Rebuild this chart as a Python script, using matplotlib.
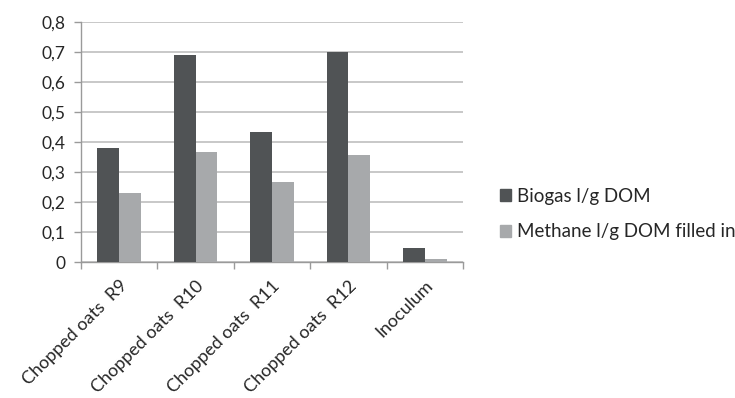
import matplotlib
matplotlib.use("Agg")
import matplotlib.pyplot as plt
from matplotlib.patches import Patch
from matplotlib.ticker import FuncFormatter, FixedLocator
from matplotlib.transforms import ScaledTranslation
import numpy as np

categories = ["Chopped oats  R9", "Chopped oats  R10", "Chopped oats  R11",
              "Chopped oats  R12", "Inoculum"]
biogas = [0.38, 0.69, 0.433, 0.70, 0.048]
methane = [0.231, 0.367, 0.267, 0.356, 0.010]
series_names = ["Biogas l/g DOM", "Methane l/g DOM filled in"]

dark = "#505355"
light = "#a7a9ab"
grid_c = "#bfbfbf"
text_c = "#262626"

plt.rcParams["font.family"] = ["Lato", "DejaVu Sans"]

fig = plt.figure(figsize=(7.35, 3.98), dpi=100)
ax = fig.add_axes([0.110, 0.341, 0.520, 0.6045])

x = np.arange(len(categories))
w = 0.285
ax.bar(x - w / 2, biogas, width=w, color=dark, zorder=3)
ax.bar(x + w / 2, methane, width=w, color=light, zorder=3)

ax.set_xlim(-0.5, len(categories) - 0.5)
ax.set_ylim(0, 0.8)
ax.set_yticks(np.arange(0, 0.81, 0.1))
ax.yaxis.set_major_formatter(FuncFormatter(
    lambda v, p: "0" if abs(v) < 1e-9 else f"{v:.1f}".replace(".", ",")))
ax.yaxis.grid(True, color=grid_c, linewidth=1.2, zorder=0)
ax.set_axisbelow(True)

# boundary ticks between categories, labels centred on each group
ax.xaxis.set_major_locator(FixedLocator(np.arange(-0.5, len(categories), 1.0)))
ax.xaxis.set_major_formatter(FuncFormatter(lambda v, p: ""))
ax.xaxis.set_minor_locator(FixedLocator(x))
labels = ax.set_xticklabels(categories, minor=True, rotation=45, ha="right",
                            va="top", rotation_mode="anchor", fontsize=13,
                            color=text_c)
shift = ScaledTranslation(6 / 100, 0, fig.dpi_scale_trans)
for lab in labels:
    lab.set_transform(lab.get_transform() + shift)
ax.tick_params(axis="x", which="minor", length=0, pad=11)
ax.tick_params(axis="x", which="major", length=5, color="#9a9a9a", width=1)
ax.tick_params(axis="y", length=5, color="#9a9a9a", width=1,
               labelsize=12.5, labelcolor=text_c, pad=6)

for s in ("top", "right"):
    ax.spines[s].set_visible(False)
for s in ("left", "bottom"):
    ax.spines[s].set_color("#9a9a9a")
    ax.spines[s].set_linewidth(1)

handles = [Patch(color=dark), Patch(color=light)]
fig.legend(handles, series_names, loc="center left",
           bbox_to_anchor=(0.662, 0.462), frameon=False, fontsize=13.5,
           handlelength=0.6, handleheight=0.6, handletextpad=0.3,
           labelspacing=1.0, labelcolor=text_c, borderpad=0.2)

fig.savefig("out.png", dpi=100)
